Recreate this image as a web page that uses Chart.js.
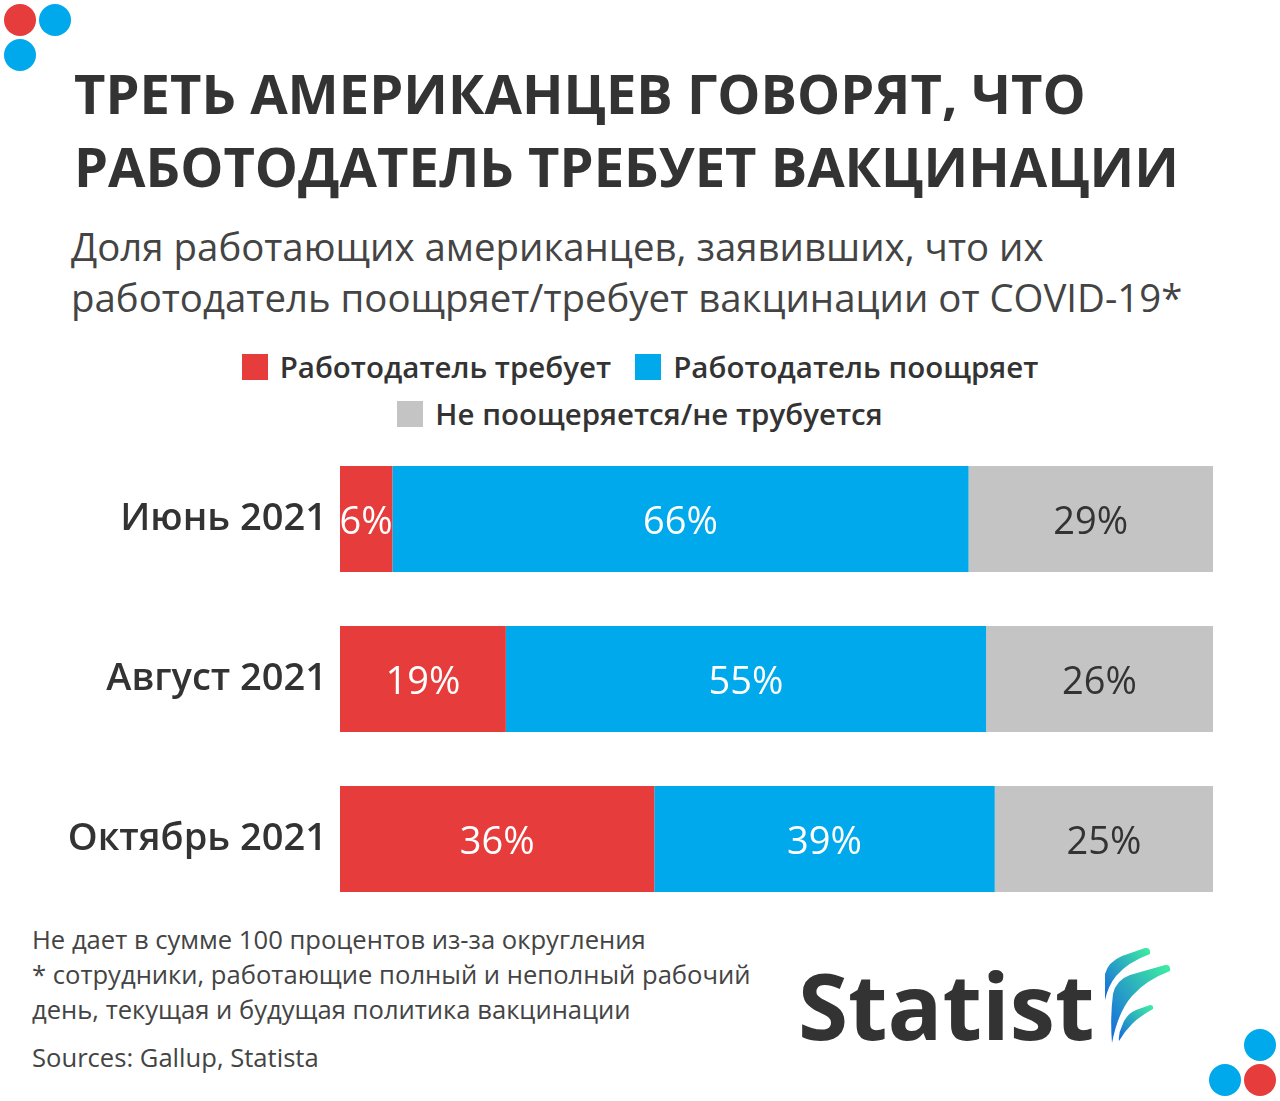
<!DOCTYPE html>
<html lang="ru">
<head>
    <meta charset="UTF-8">
    <title>Вакцинация и работодатели</title>
    <script src="https://cdn.jsdelivr.net/npm/chart.js"></script>
    <style>
        body {
            margin: 0;
            width: 1280px;
            height: 1101px;
            background: #fff;
            font-family: "Open Sans", sans-serif;
            color: #333;
            position: relative;
            overflow: hidden;
        }
        .dot {
            position: absolute;
            width: 32px;
            height: 32px;
            border-radius: 50%;
        }
        .red { background: #e63c3c; }
        .blue { background: #00a8ec; }
        .title {
            position: absolute;
            left: 74px;
            top: 57px;
            font-size: 54.3px;
            line-height: 73px;
            font-weight: 700;
            color: #333;
        }
        .subtitle {
            position: absolute;
            left: 71px;
            top: 221px;
            font-size: 38.4px;
            line-height: 51px;
            color: #444;
        }
        .legend {
            position: absolute;
            left: 0;
            top: 343px;
            width: 1280px;
            display: flex;
            flex-wrap: wrap;
            justify-content: center;
            font-size: 29.5px;
            font-weight: 600;
            line-height: 47px;
            padding: 0 225px;
            box-sizing: border-box;
        }
        .legend span.item {
            display: inline-flex;
            align-items: center;
            margin: 0 12px;
        }
        .legend span.box {
            width: 26px;
            height: 26px;
            margin-right: 12px;
        }
        .chart-box {
            position: absolute;
            left: 0;
            top: 439px;
            width: 1213px;
            height: 480px;
        }
        .notes {
            position: absolute;
            left: 32px;
            top: 922px;
            font-size: 25.6px;
            line-height: 35px;
            color: #444;
        }
        .sources {
            position: absolute;
            left: 32px;
            top: 1040px;
            font-size: 25.6px;
            line-height: 35px;
            color: #444;
        }
        .logo {
            position: absolute;
            left: 798px;
            top: 960px;
            font-size: 91px;
            line-height: 91px;
            font-weight: 700;
            color: #333;
        }
        .leaf {
            position: absolute;
            left: 1098px;
            top: 944px;
        }
    </style>
</head>
<body>
<div class="dot red" style="left:4px;top:4px"></div>
<div class="dot blue" style="left:39px;top:4px"></div>
<div class="dot blue" style="left:4px;top:39px"></div>

<div class="dot blue" style="left:1244px;top:1029px"></div>
<div class="dot blue" style="left:1209px;top:1064px"></div>
<div class="dot red" style="left:1244px;top:1064px"></div>

<div class="title">ТРЕТЬ АМЕРИКАНЦЕВ ГОВОРЯТ, ЧТО<br>РАБОТОДАТЕЛЬ ТРЕБУЕТ ВАКЦИНАЦИИ</div>
<div class="subtitle">Доля работающих американцев, заявивших, что их<br>работодатель поощряет/требует вакцинации от COVID-19*</div>

<div class="legend" id="legend"></div>

<div class="chart-box">
    <canvas id="myChart"></canvas>
</div>

<div class="notes">Не дает в сумме 100 процентов из-за округления<br>* сотрудники, работающие полный и неполный рабочий<br>день, текущая и будущая политика вакцинации</div>
<div class="sources">Sources: Gallup, Statista</div>

<div class="logo">Statist</div>
<svg class="leaf" width="80" height="104" viewBox="0 0 80 104">
    <defs>
        <linearGradient id="lg" x1="0" y1="1" x2="1" y2="0">
            <stop offset="0" stop-color="#1565e0"/>
            <stop offset="1" stop-color="#3ff0a0"/>
        </linearGradient>
    </defs>
    <path d="M7 30 Q10 18 24 12 L47 4 Q53 3 52 10 Q30 18 18 32 Q10 42 7 56 Z" fill="url(#lg)"/>
    <path d="M15 50 Q18 36 32 31 L67 21 Q73 20 72 27 Q48 36 34 52 Q20 68 14 99 Q12 74 15 50 Z" fill="url(#lg)"/>
    <path d="M24 82 Q28 70 38 66 L52 61 Q56 61 55 65 Q42 72 34 80 Q26 88 21 97 Q20 90 24 82 Z" fill="url(#lg)"/>
</svg>

<script>
  // data
  const months = ['Июнь 2021', 'Август 2021', 'Октябрь 2021'];
  const requires = [6, 19, 36];
  const encourages = [66, 55, 39];
  const neither = [29, 26, 25];
  const seriesNames = ['Работодатель требует', 'Работодатель поощряет', 'Не поощеряется/не трубуется'];
  const seriesColors = ['#e63c3c', '#00a8ec', '#c4c4c4'];
  const labelColors = ['#ffffff', '#ffffff', '#333333'];

  // html legend
  var legend = document.getElementById('legend');
  seriesNames.forEach((name, i) => {
    var item = document.createElement('span');
    item.className = 'item';
    item.innerHTML = '<span class="box" style="background:' + seriesColors[i] + '"></span>' + name;
    legend.appendChild(item);
  });

  // value labels, centred on the visible (clipped) part of each bar
  const barLabels = {
    id: 'barLabels',
    afterDatasetsDraw(chart) {
      const ctx = chart.ctx;
      const area = chart.chartArea;
      ctx.save();
      ctx.font = '500 38px "Open Sans"';
      ctx.textAlign = 'center';
      ctx.textBaseline = 'middle';
      chart.data.datasets.forEach((ds, i) => {
        chart.getDatasetMeta(i).data.forEach((bar, j) => {
          const left = Math.max(Math.min(bar.x, bar.base), area.left);
          const right = Math.min(Math.max(bar.x, bar.base), area.right);
          ctx.fillStyle = labelColors[i];
          ctx.fillText(ds.data[j] + '%', (left + right) / 2, bar.y + 4);
        });
      });
      ctx.restore();
    }
  };

  var ctx = document.getElementById('myChart').getContext('2d');
  var myChart = new Chart(ctx, {
    type: 'bar',
    data: {
      labels: months,
      datasets: [requires, encourages, neither].map((d, i) => ({
        label: seriesNames[i],
        data: d,
        backgroundColor: seriesColors[i],
        barPercentage: 0.6625,
        categoryPercentage: 1,
        clip: 0
      }))
    },
    options: {
      indexAxis: 'y',
      responsive: true,
      maintainAspectRatio: false,
      animation: false,
      layout: { padding: 0 },
      plugins: {
        legend: { display: false },
        tooltip: { enabled: false }
      },
      scales: {
        x: {
          stacked: true,
          min: 0,
          max: 100,
          display: false
        },
        y: {
          stacked: true,
          grid: { display: false, drawTicks: false },
          border: { display: false },
          ticks: {
            color: '#333',
            font: { family: 'Open Sans', size: 38, weight: '600' },
            padding: 13
          },
          afterFit: (scale) => {
            scale.width = 340;
            scale.paddingTop = 0;
            scale.paddingBottom = 0;
          }
        }
      }
    },
    plugins: [barLabels]
  });
</script>
</body>
</html>
